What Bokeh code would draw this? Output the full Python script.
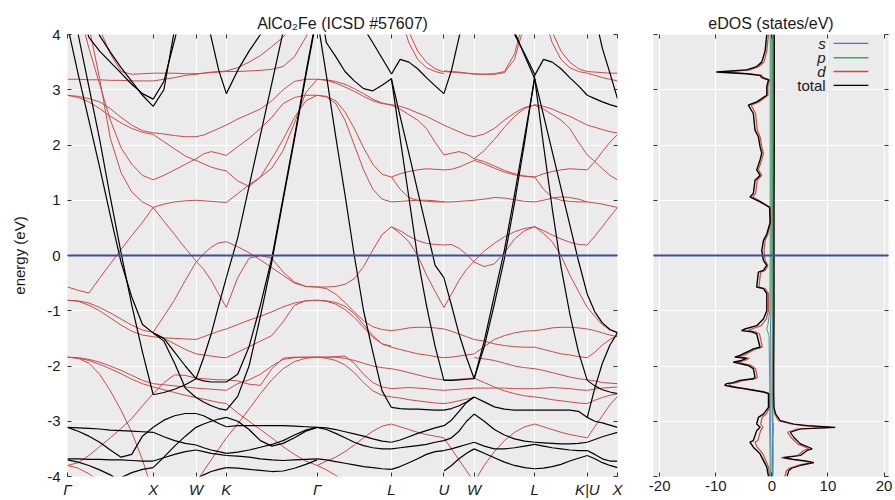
import numpy as np
from bokeh.plotting import figure
from bokeh.layouts import row
from bokeh.models import FixedTicker, Span, Range1d, LinearAxis
from bokeh.core.properties import value
from bokeh.embed import file_html
from bokeh.resources import INLINE

# ---------------- band structure data ----------------
sym_labels = ["Γ", "X", "W", "K", "Γ", "L", "U", "W", "L", "K|U", "X"]
sym_k = [0.0, 1.0, 1.5, 1.854, 2.914, 3.780, 4.393, 4.746, 5.453, 6.066, 6.419]

# each band: energies (eV) at evenly spaced points along one path segment
black_G_X = [
    [4.16, 3.28, 2.44, 1.6, 0.72, -0.12, -0.75, -1.25, -1.4],
    [4.9, 4.0, 3.05, 2.1, 1.05, 0.05, -0.9, -1.75, -2.52],
    [5.5, 4.6, 3.95, 3.7, 3.5, 3.3, 3.1, 2.93, 2.83],
    [6.0, 5.2, 4.5, 3.98, 3.68, 3.4, 3.15, 2.9, 2.7],
    [-3.11, -3.18, -3.27, -3.38, -3.52, -3.65, -3.6, -3.27, -3.11],
    [-3.11, -3.12, -3.13, -3.14, -3.16, -3.17, -3.18, -3.19, -3.2],
    [-3.68, -3.68, -3.69, -3.69, -3.7, -3.7, -3.71, -3.72, -3.72],
    [-3.7, -3.74, -3.8, -3.88, -3.97, -4.1, -4.2, -4.3, -4.35],
    [-5.0, -4.8, -4.6, -4.4, -4.15, -4.02, -3.93, -3.87, -3.84],
]
red_G_X = [
    [3.19, 3.19, 3.18, 3.18, 3.17, 3.17, 3.16, 3.16, 3.16],
    [6.0, 5.2, 4.6, 4.1, 3.65, 3.33, 3.28, 3.29, 3.3],
    [2.9, 2.88, 2.84, 2.78, 2.66, 2.5, 2.36, 2.26, 2.22],
    [2.9, 2.86, 2.78, 2.66, 2.52, 2.4, 2.3, 2.23, 2.19],
    [5.3, 4.5, 3.75, 3.1, 2.45, 1.95, 1.65, 1.45, 1.37],
    [6.0, 5.0, 4.15, 3.2, 2.12, 1.5, 1.15, 0.97, 0.87],
    [-0.57, -0.63, -0.68, -0.41, -0.15, 0.11, 0.36, 0.6, 0.87],
    [-0.81, -0.82, -0.86, -0.94, -1.04, -1.15, -1.26, -1.35, -1.39],
    [-0.81, -0.83, -0.9, -1.0, -1.13, -1.26, -1.37, -1.44, -1.47],
    [-1.84, -1.85, -1.88, -1.93, -2.0, -2.08, -2.17, -2.26, -2.32],
    [-1.84, -1.86, -1.9, -1.97, -2.05, -2.14, -2.24, -2.32, -2.38],
    [-1.84, -1.86, -1.95, -2.15, -2.45, -2.8, -3.2, -3.7, -4.3],
    [-3.8, -3.75, -3.62, -3.46, -3.3, -3.13, -2.95, -2.72, -2.5],
    [-3.8, -3.85, -3.95, -4.1, -4.3, -4.5, -4.7, -4.9, -5.0],
]
black_X_W = [
    [2.83, 3.15, 3.9, 4.7, 5.5],
    [2.7, 3.0, 4.1, 5.0, 5.8],
    [-1.4, -1.5, -1.75, -2.0, -2.23],
    [-1.4, -1.55, -1.95, -2.4, -2.57],
    [-2.52, -2.48, -2.42, -2.34, -2.23],
    [-3.11, -2.98, -2.9, -2.86, -2.86],
    [-3.2, -3.28, -3.35, -3.4, -3.43],
    [-3.72, -3.66, -3.6, -3.55, -3.52],
    [-3.84, -3.65, -3.45, -3.27, -3.11],
    [-4.35, -4.25, -4.15, -4.1, -4.05],
]
red_X_W = [
    [3.16, 3.19, 3.22, 3.26, 3.28],
    [3.3, 3.3, 3.3, 3.29, 3.29],
    [2.22, 2.2, 2.17, 2.15, 2.15],
    [2.19, 2.06, 1.93, 1.8, 1.72],
    [1.37, 1.45, 1.55, 1.65, 1.75],
    [0.87, 0.93, 0.97, 0.99, 1.0],
    [0.87, 0.62, 0.38, 0.13, -0.1],
    [-1.39, -1.1, -0.8, -0.45, -0.12],
    [-1.47, -1.49, -1.5, -1.51, -1.52],
    [-1.42, -1.5, -1.6, -1.7, -1.78],
    [-2.32, -2.34, -2.36, -2.38, -2.4],
    [-2.38, -2.43, -2.48, -2.53, -2.57],
    [-2.5, -2.3, -2.16, -2.17, -2.22],
    [-5.5, -5.0, -4.6, -4.3, -4.1],
]
black_W_K = [
    [5.2, 4.5, 3.95, 3.35, 2.93],
    [-2.23, -1.85, -1.42, -0.9, -0.4],
    [-2.23, -2.27, -2.29, -2.29, -2.29],
    [-2.57, -2.65, -2.72, -2.77, -2.8],
    [-2.86, -2.9, -2.97, -3.04, -3.1],
    [-3.43, -3.48, -3.52, -3.55, -3.58],
    [-3.52, -3.55, -3.58, -3.6, -3.62],
    [-3.11, -3.05, -3.0, -2.96, -2.93],
    [-4.05, -3.97, -3.91, -3.87, -3.84],
]
red_W_K = [
    [3.28, 3.3, 3.31, 3.32, 3.33],
    [3.29, 3.3, 3.32, 3.33, 3.34],
    [2.15, 2.18, 2.24, 2.3, 2.36],
    [1.72, 1.66, 1.6, 1.56, 1.53],
    [1.75, 1.84, 1.88, 1.85, 1.81],
    [1.0, 0.99, 0.98, 0.97, 0.96],
    [-0.1, -0.25, -0.45, -0.7, -0.94],
    [-0.12, 0.03, 0.15, 0.23, 0.25],
    [-1.52, -1.47, -1.42, -1.37, -1.33],
    [-1.78, -1.8, -1.82, -1.84, -1.85],
    [-2.4, -2.41, -2.42, -2.43, -2.44],
    [-2.57, -2.6, -2.63, -2.66, -2.68],
    [-2.22, -2.23, -2.24, -2.25, -2.25],
    [-4.1, -3.9, -3.7, -3.5, -3.3],
]
black_K_G = [
    [2.93, 3.35, 3.7, 4.0, 4.3, 4.6, 4.9, 5.2, 5.5],
    [-0.4, 0.32, 1.25, 2.18, 3.11, 4.05, 5.0, 6.0, 7.0],
    [-2.29, -2.15, -1.65, -0.9, -0.05, 1.05, 2.15, 3.3, 4.4],
    [-2.8, -2.55, -2.0, -1.1, -0.12, 1.0, 2.1, 3.25, 4.35],
    [-3.1, -3.08, -3.08, -3.08, -3.08, -3.08, -3.09, -3.1, -3.11],
    [-2.93, -3.0, -3.15, -3.35, -3.45, -3.4, -3.3, -3.18, -3.11],
    [-3.58, -3.56, -3.52, -3.47, -3.42, -3.35, -3.25, -3.16, -3.11],
    [-3.62, -3.63, -3.65, -3.68, -3.7, -3.71, -3.7, -3.69, -3.68],
    [-3.84, -3.85, -3.87, -3.89, -3.91, -3.9, -3.85, -3.78, -3.7],
]
red_K_G = [
    [3.33, 3.33, 3.34, 3.35, 3.37, 3.42, 3.6, 3.95, 4.4],
    [3.34, 3.4, 3.5, 3.62, 3.78, 3.95, 4.2, 4.5, 4.8],
    [2.36, 2.47, 2.56, 2.65, 2.8, 3.0, 3.15, 3.19, 3.19],
    [1.81, 1.97, 2.12, 2.3, 2.5, 2.75, 2.86, 2.9, 2.9],
    [1.53, 1.35, 1.25, 1.42, 1.75, 2.1, 2.5, 2.8, 2.9],
    [0.96, 1.12, 1.28, 1.42, 1.58, 1.9, 2.4, 2.95, 3.19],
    [-0.94, -0.4, -0.05, 0.0, -0.05, -0.3, -0.48, -0.56, -0.57],
    [0.25, 0.16, 0.05, -0.08, -0.22, -0.36, -0.5, -0.56, -0.57],
    [-1.33, -1.25, -1.17, -1.1, -1.02, -0.93, -0.86, -0.82, -0.81],
    [-1.85, -1.75, -1.65, -1.55, -1.45, -1.2, -0.9, -0.82, -0.81],
    [-2.25, -2.27, -2.33, -2.35, -2.05, -1.86, -1.84, -1.84, -1.84],
    [-2.44, -2.32, -2.25, -2.15, -2.0, -1.88, -1.85, -1.84, -1.84],
    [-2.68, -2.85, -3.0, -3.15, -3.3, -3.46, -3.6, -3.72, -3.8],
    [-3.3, -3.05, -2.78, -2.5, -2.25, -2.05, -1.92, -1.86, -1.84],
]
black_G_L = [
    [4.3, 3.25, 2.15, 1.1, 0.0, -1.0, -1.75, -2.45, -2.75],
    [4.8, 3.85, 3.6, 3.33, 3.16, 3.02, 2.98, 3.08, 3.2],
    [6.0, 5.6, 5.2, 4.85, 4.5, 4.12, 3.85, 3.57, 3.29],
    [-3.11, -3.12, -3.15, -3.19, -3.23, -3.27, -3.32, -3.36, -3.38],
    [-3.11, -3.15, -3.22, -3.3, -3.38, -3.44, -3.48, -3.5, -3.5],
    [-3.68, -3.7, -3.73, -3.76, -3.79, -3.82, -3.84, -3.86, -3.87],
]
red_G_L = [
    [3.19, 3.17, 3.12, 3.05, 2.97, 2.88, 2.8, 2.75, 2.73],
    [3.19, 3.18, 3.15, 3.1, 3.02, 2.93, 2.83, 2.76, 2.72],
    [2.9, 2.88, 2.8, 2.6, 2.3, 1.95, 1.65, 1.47, 1.42],
    [2.9, 2.87, 2.75, 2.45, 2.0, 1.55, 1.2, 1.02, 0.97],
    [-0.57, -0.57, -0.56, -0.52, -0.42, -0.2, 0.1, 0.38, 0.52],
    [-0.57, -0.6, -0.7, -0.85, -1.02, -1.18, -1.29, -1.34, -1.36],
    [-0.81, -0.82, -0.85, -0.92, -1.05, -1.25, -1.45, -1.6, -1.66],
    [-0.81, -0.83, -0.88, -0.98, -1.12, -1.3, -1.48, -1.6, -1.64],
    [-1.84, -1.84, -1.84, -1.86, -1.9, -1.95, -2.0, -2.03, -2.05],
    [-1.84, -1.84, -1.83, -1.82, -1.95, -2.15, -2.3, -2.38, -2.41],
    [-1.84, -1.86, -1.9, -1.98, -2.12, -2.3, -2.45, -2.53, -2.56],
    [-3.8, -3.72, -3.65, -3.55, -3.43, -3.3, -3.18, -3.09, -3.05],
    [-3.8, -3.88, -3.98, -4.1, -4.2, -4.3, -4.4, -4.45, -4.5],
]
black_L_U = [
    [3.28, 3.55, 3.5, 3.38, 3.22, 3.07, 2.93],
    [3.2, 2.12, 1.05, -0.04, -0.9, -1.65, -2.26],
    [3.2, 2.52, 1.85, 1.17, 0.5, -0.18, -0.4],
    [-2.75, -2.77, -2.78, -2.78, -2.79, -2.8, -2.8],
    [-3.38, -3.34, -3.28, -3.22, -3.17, -3.12, -3.08],
    [-3.5, -3.48, -3.46, -3.44, -3.42, -3.38, -3.35],
    [-3.87, -3.82, -3.75, -3.68, -3.6, -3.55, -3.53],
]
red_L_U = [
    [2.73, 2.7, 2.65, 2.58, 2.52, 2.44, 2.36],
    [5.0, 4.35, 3.85, 3.55, 3.4, 3.33, 3.29],
    [5.3, 4.6, 4.05, 3.7, 3.5, 3.38, 3.32],
    [2.72, 2.65, 2.55, 2.45, 2.3, 2.05, 1.82],
    [1.42, 1.48, 1.52, 1.55, 1.57, 1.56, 1.55],
    [1.42, 1.2, 1.05, 1.0, 0.98, 0.97, 0.97],
    [0.97, 0.98, 0.99, 1.0, 1.0, 0.99, 0.97],
    [0.52, 0.45, 0.35, 0.27, 0.22, 0.2, 0.19],
    [0.52, 0.4, 0.25, 0.0, -0.35, -0.65, -0.94],
    [-1.36, -1.34, -1.31, -1.3, -1.3, -1.31, -1.33],
    [-1.66, -1.7, -1.74, -1.78, -1.8, -1.83, -1.85],
    [-2.05, -2.08, -2.12, -2.16, -2.2, -2.23, -2.25],
    [-2.41, -2.4, -2.39, -2.4, -2.41, -2.43, -2.44],
    [-2.56, -2.58, -2.61, -2.63, -2.65, -2.67, -2.68],
    [-3.05, -3.1, -3.15, -3.2, -3.24, -3.27, -3.3],
]
black_U_W = [
    [2.93, 3.35, 3.95, 4.5, 5.2],
    [-0.4, -0.9, -1.42, -1.85, -2.23],
    [-2.26, -2.26, -2.25, -2.24, -2.23],
    [-2.8, -2.77, -2.72, -2.65, -2.56],
    [-3.08, -2.98, -2.82, -2.66, -2.56],
    [-3.35, -3.3, -3.18, -3.0, -2.87],
    [-3.53, -3.5, -3.46, -3.42, -3.38],
    [-3.9, -3.8, -3.68, -3.58, -3.5],
]
red_U_W = [
    [3.33, 3.32, 3.31, 3.3, 3.28],
    [3.34, 3.33, 3.32, 3.3, 3.29],
    [2.36, 2.3, 2.24, 2.18, 2.15],
    [1.55, 1.56, 1.6, 1.66, 1.72],
    [1.82, 1.85, 1.88, 1.84, 1.75],
    [0.97, 0.97, 0.98, 0.99, 1.0],
    [-0.94, -0.7, -0.45, -0.25, -0.1],
    [0.19, 0.2, 0.13, 0.02, -0.12],
    [-1.33, -1.37, -1.42, -1.47, -1.52],
    [-1.85, -1.84, -1.82, -1.8, -1.78],
    [-2.44, -2.43, -2.42, -2.41, -2.4],
    [-2.68, -2.66, -2.63, -2.6, -2.57],
    [-2.25, -2.25, -2.24, -2.23, -2.22],
    [-3.3, -3.5, -3.7, -3.9, -4.1],
]
black_W_L = [
    [-2.23, -1.55, -0.72, 0.1, 1.1, 2.15, 3.2],
    [-2.23, -1.65, -0.88, -0.05, 0.95, 2.05, 3.26],
    [6.3, 5.6, 5.0, 4.45, 4.0, 3.65, 3.28],
    [6.0, 5.4, 4.85, 4.4, 4.05, 3.62, 3.2],
    [-2.56, -2.65, -2.74, -2.78, -2.8, -2.8, -2.8],
    [-2.87, -3.0, -3.15, -3.25, -3.32, -3.36, -3.38],
    [-3.38, -3.45, -3.5, -3.5, -3.48, -3.45, -3.42],
    [-3.5, -3.58, -3.66, -3.74, -3.8, -3.84, -3.86],
]
red_W_L = [
    [3.28, 3.28, 3.28, 3.31, 3.55, 4.2, 5.0],
    [3.29, 3.28, 3.29, 3.33, 3.65, 4.35, 5.2],
    [2.15, 2.2, 2.3, 2.45, 2.58, 2.68, 2.72],
    [1.75, 1.9, 2.1, 2.32, 2.52, 2.66, 2.73],
    [1.75, 1.7, 1.62, 1.54, 1.48, 1.44, 1.42],
    [1.72, 1.66, 1.58, 1.51, 1.46, 1.43, 1.42],
    [1.0, 1.02, 1.05, 1.04, 1.01, 0.98, 0.97],
    [-0.12, -0.2, -0.15, 0.05, 0.3, 0.45, 0.52],
    [-0.1, 0.08, 0.22, 0.34, 0.43, 0.49, 0.52],
    [-1.78, -1.65, -1.52, -1.45, -1.4, -1.37, -1.36],
    [-1.52, -1.55, -1.6, -1.63, -1.65, -1.66, -1.66],
    [-1.85, -1.87, -1.9, -1.95, -2.0, -2.03, -2.05],
    [-2.4, -2.4, -2.4, -2.4, -2.41, -2.41, -2.41],
    [-2.22, -2.3, -2.38, -2.45, -2.5, -2.54, -2.56],
    [-4.1, -3.8, -3.55, -3.35, -3.2, -3.1, -3.05],
]
black_L_K = [
    [3.26, 3.55, 3.5, 3.38, 3.22, 3.07, 2.9],
    [3.2, 2.0, 0.85, -0.2, -1.05, -1.75, -2.26],
    [3.2, 2.54, 1.88, 1.22, 0.56, -0.1, -0.7],
    [-2.8, -2.8, -2.8, -2.8, -2.8, -2.82, -2.93],
    [-3.38, -3.39, -3.4, -3.41, -3.41, -3.4, -3.38],
    [-3.42, -3.45, -3.48, -3.5, -3.52, -3.53, -3.53],
    [-3.86, -3.85, -3.82, -3.78, -3.72, -3.67, -3.62],
]
red_L_K = [
    [2.73, 2.7, 2.65, 2.58, 2.52, 2.44, 2.36],
    [5.0, 4.35, 3.85, 3.55, 3.4, 3.33, 3.3],
    [5.3, 4.6, 4.05, 3.7, 3.5, 3.38, 3.33],
    [2.72, 2.65, 2.55, 2.45, 2.3, 2.05, 1.82],
    [1.42, 1.48, 1.52, 1.55, 1.57, 1.56, 1.55],
    [1.42, 1.2, 1.05, 1.0, 0.98, 0.97, 0.97],
    [0.97, 1.0, 1.04, 1.06, 1.05, 1.02, 0.97],
    [0.52, 0.45, 0.37, 0.3, 0.24, 0.2, 0.19],
    [0.52, 0.4, 0.25, 0.0, -0.35, -0.65, -0.94],
    [-1.36, -1.34, -1.31, -1.3, -1.3, -1.31, -1.33],
    [-1.66, -1.7, -1.74, -1.78, -1.8, -1.83, -1.85],
    [-2.05, -2.08, -2.12, -2.16, -2.2, -2.23, -2.25],
    [-2.41, -2.4, -2.39, -2.4, -2.41, -2.43, -2.44],
    [-2.56, -2.58, -2.61, -2.63, -2.65, -2.67, -2.68],
    [-3.05, -3.1, -3.15, -3.2, -3.24, -3.27, -3.3],
]
black_U_X = [
    [2.9, 2.84, 2.78, 2.73, 2.69],
    [5.0, 4.35, 3.75, 3.3, 2.84],
    [-0.7, -1.02, -1.22, -1.34, -1.4],
    [-2.26, -2.36, -2.43, -2.47, -2.5],
    [-2.93, -2.4, -1.95, -1.62, -1.4],
    [-2.93, -3.0, -3.03, -3.07, -3.11],
    [-3.38, -3.33, -3.28, -3.24, -3.2],
    [-3.53, -3.6, -3.68, -3.72, -3.72],
    [-3.62, -3.68, -3.75, -3.8, -3.84],
]
red_U_X = [
    [3.33, 3.32, 3.31, 3.3, 3.3],
    [3.3, 3.26, 3.22, 3.19, 3.16],
    [2.36, 2.32, 2.28, 2.24, 2.22],
    [1.55, 1.7, 1.88, 2.05, 2.19],
    [1.82, 1.7, 1.57, 1.45, 1.37],
    [0.97, 0.95, 0.93, 0.9, 0.87],
    [0.19, 0.35, 0.52, 0.7, 0.87],
    [-0.94, -1.1, -1.25, -1.35, -1.39],
    [-1.33, -1.36, -1.4, -1.44, -1.47],
    [-1.85, -1.75, -1.62, -1.52, -1.45],
    [-2.25, -2.27, -2.3, -2.31, -2.32],
    [-2.44, -2.42, -2.4, -2.39, -2.38],
    [-2.68, -2.62, -2.57, -2.53, -2.5],
    [-3.3, -3.1, -2.9, -2.7, -2.55],
]

segments = [
    (black_G_X, red_G_X), (black_X_W, red_X_W), (black_W_K, red_W_K),
    (black_K_G, red_K_G), (black_G_L, red_G_L), (black_L_U, red_L_U),
    (black_U_W, red_U_W), (black_W_L, red_W_L), (black_L_K, red_L_K),
    (black_U_X, red_U_X),
]

# ---------------- DOS data (states/eV) ----------------
dos_dn_E = [4.0, 3.7, 3.5, 3.42, 3.36, 3.32, 3.29, 3.26, 3.22, 3.18, 3.06, 2.9, 2.78, 2.72,
            2.57, 2.27, 2.15, 1.97, 1.85, 1.73, 1.55, 1.45, 1.36, 1.12, 1.06, 0.97, 0.87,
            0.6, 0.39, 0.27, 0.09, -0.09, -0.18, -0.27, -0.3, -0.57, -0.6, -0.69, -1.0,
            -1.15, -1.27, -1.33, -1.36, -1.38, -1.42, -1.66, -1.69, -1.72, -1.81, -1.84,
            -1.86, -1.9, -1.93, -1.99, -2.05, -2.2, -2.23, -2.26, -2.3, -2.32, -2.35, -2.38,
            -2.41, -2.44, -2.47, -2.5, -2.75, -2.87, -2.93, -3.05, -3.11, -3.17, -3.35,
            -3.38, -3.47, -3.59, -3.83, -4.0]
total_dn = [-0.9, -1.2, -1.8, -2.7, -4.5, -9.9, -4.5, -2.1, -1.8, -0.6, -0.9, -0.9, -2.7, -4.2,
            -3.3, -3.0, -2.4, -2.1, -1.8, -2.1, -2.7, -2.1, -3.0, -3.3, -3.9, -2.1, -0.4,
            -0.3, -0.9, -1.5, -1.8, -1.5, -0.9, -1.5, -2.4, -2.7, -1.5, -0.9, -0.9,
            -1.5, -2.7, -4.8, -5.4, -3.6, -2.7, -2.1, -3.3, -3.9, -5.7, -6.6,
            -4.5, -5.4, -6.9, -4.2, -3.3, -3.0, -3.3, -5.7, -6.9, -8.1, -8.4, -6.9,
            -5.1, -3.3, -1.5, -0.6, -0.6, -1.5, -2.4, -2.7, -2.1, -2.7, -3.3,
            -3.9, -3.3, -2.1, -0.9, -0.6]
d_dn = [-0.6, -0.9, -1.4, -2.3, -3.9, -8.9, -4.0, -1.8, -1.5, -0.4, -0.7, -0.7, -2.3, -3.7,
        -2.9, -2.6, -2.1, -1.8, -1.5, -1.8, -2.4, -1.8, -2.6, -2.9, -3.4, -1.8, -0.3,
        -0.2, -0.7, -1.2, -1.4, -1.2, -0.7, -1.2, -2.0, -2.3, -1.2, -0.6, -0.6,
        -1.0, -1.9, -3.6, -4.2, -2.9, -2.2, -1.7, -2.8, -3.4, -5.0, -5.9,
        -4.0, -4.8, -6.2, -3.7, -2.9, -2.6, -2.9, -5.1, -6.3, -7.4, -7.7, -6.3,
        -4.6, -2.9, -1.2, -0.4, -0.4, -1.0, -1.7, -2.0, -1.6, -2.0, -2.5,
        -3.0, -2.6, -1.6, -0.6, -0.4]
dos_up_E = [4.0, 3.0, 2.0, 1.0, 0.0, -1.0, -2.0, -2.5, -2.75, -2.87, -2.99, -3.05, -3.08,
            -3.11, -3.14, -3.2, -3.29, -3.41, -3.47, -3.5, -3.53, -3.62, -3.66, -3.69,
            -3.72, -3.75, -3.8, -3.85, -3.9, -4.0]
total_up = [0.45, 0.45, 0.45, 0.4, 0.4, 0.4, 0.35, 0.35, 0.4, 0.7, 1.5, 3.9, 6.3, 11.3, 5.1,
            3.3, 3.9, 5.1, 6.6, 7.2, 6.3, 5.1, 2.1, 3.9, 6.3, 7.5, 5.1, 3.5, 3.0, 2.7]
d_up = [0.3, 0.3, 0.3, 0.3, 0.3, 0.3, 0.25, 0.25, 0.3, 0.5, 1.2, 3.4, 5.6, 10.4, 4.5,
        2.8, 3.4, 4.6, 6.0, 6.6, 5.7, 4.6, 1.7, 3.4, 5.7, 6.9, 4.6, 3.1, 2.6, 2.3]
sp_dn_E = [4.0, 2.0, 0.0, -1.0, -1.25, -1.33, -1.45, -2.5, -3.1, -3.7, -4.0]
s_dn = [-0.12, -0.12, -0.12, -0.15, -0.22, -0.25, -0.2, -0.15, -0.2, -0.15, -0.15]
p_dn = [-0.3, -0.3, -0.3, -0.35, -0.7, -0.9, -0.5, -0.35, -0.4, -0.3, -0.3]
sp_up_E = [4.0, 0.0, -2.5, -3.0, -3.1, -3.3, -3.7, -4.0]
s_up = [0.08, 0.08, 0.08, 0.1, 0.15, 0.12, 0.12, 0.1]
p_up = [0.15, 0.15, 0.15, 0.2, 0.3, 0.22, 0.25, 0.2]

legend_labels = ["s", "p", "d", "total"]

# ---------------- styling ----------------
FONT = "Liberation Sans"
BG = "#EBEBEB"
RED = "#cf4848"
BLACK = "#000000"
BLUE_F = "#3a4fa3"
S_COL = "#4a6fc9"
P_COL = "#3fa85c"
TXT = "#1a1a1a"
y_ticks = [-4, -3, -2, -1, 0, 1, 2, 3, 4]


def style(p):
    p.background_fill_color = BG
    p.border_fill_color = "white"
    p.outline_line_color = None
    p.grid.grid_line_color = "white"
    p.grid.grid_line_width = 1.2
    p.title.text_font = FONT
    p.title.text_font_size = "16px"
    p.title.text_font_style = "normal"
    p.title.align = "center"
    p.title.text_color = TXT
    p.title.standoff = 6
    for ax in p.axis:
        ax.axis_line_color = None
        ax.major_tick_line_color = "#333333"
        ax.major_tick_in = 4
        ax.major_tick_out = 0
        ax.minor_tick_line_color = None
        ax.major_label_text_font = FONT
        ax.major_label_text_font_size = "15px"
        ax.major_label_text_color = TXT


def mirror_axis(p, xticks, side):
    ax = LinearAxis(ticker=FixedTicker(ticks=xticks))
    ax.axis_line_color = None
    ax.major_tick_line_color = "#333333"
    ax.major_tick_in = 4
    ax.major_tick_out = 0
    ax.minor_tick_line_color = None
    ax.major_label_text_font_size = "0px"
    ax.major_label_standoff = 0
    ax.major_label_overrides = {t: "" for t in xticks}
    p.add_layout(ax, side)


# band structure panel
p1 = figure(width=630, height=500, x_range=Range1d(sym_k[0], sym_k[-1]),
            y_range=Range1d(-4, 4), output_backend="svg", toolbar_location=None,
            min_border_left=67, min_border_right=13, min_border_top=34,
            min_border_bottom=24, title="AlCo₂Fe (ICSD #57607)")
style(p1)
p1.xaxis.ticker = FixedTicker(ticks=sym_k)
p1.xgrid.ticker = FixedTicker(ticks=sym_k)
p1.xaxis.major_label_overrides = {k: lab for k, lab in zip(sym_k, sym_labels)}
p1.xaxis.major_label_text_font_style = "italic"
p1.xaxis.major_label_standoff = 4
p1.yaxis.ticker = FixedTicker(ticks=y_ticks)
p1.ygrid.ticker = FixedTicker(ticks=y_ticks)
p1.yaxis.major_label_overrides = {t: str(t) for t in y_ticks}
p1.yaxis.major_label_standoff = 7
p1.yaxis.axis_label = "energy (eV)"
p1.yaxis.axis_label_text_font = FONT
p1.yaxis.axis_label_text_font_size = "15px"
p1.yaxis.axis_label_text_font_style = "normal"
p1.yaxis.axis_label_text_color = TXT
p1.yaxis.axis_label_standoff = 16
mirror_axis(p1, sym_k, "above")
mirror_axis(p1, y_ticks, "right")

rx, ry, bx, by = [], [], [], []
for i, (blk, red) in enumerate(segments):
    k0, k1 = sym_k[i], sym_k[i + 1]
    for band in red:
        rx.append(list(np.linspace(k0, k1, len(band))))
        ry.append(band)
    for band in blk:
        bx.append(list(np.linspace(k0, k1, len(band))))
        by.append(band)
p1.multi_line(rx, ry, line_color=RED, line_width=1.0)
p1.multi_line(bx, by, line_color=BLACK, line_width=1.2)
p1.add_layout(Span(location=0, dimension="width", line_color=BLUE_F, line_width=2))

# DOS panel
dos_ticks = [-20, -10, 0, 10, 20]
p2 = figure(width=265, height=500, x_range=Range1d(-21.1, 20.8), y_range=Range1d(-4, 4),
            output_backend="svg", toolbar_location=None, min_border_left=23,
            min_border_right=7, min_border_top=34, min_border_bottom=24,
            title="eDOS (states/eV)")
style(p2)
p2.xaxis.ticker = FixedTicker(ticks=dos_ticks)
p2.xgrid.ticker = FixedTicker(ticks=dos_ticks)
p2.xaxis.major_label_overrides = {t: str(t) for t in dos_ticks}
p2.xaxis.major_label_standoff = 4
p2.yaxis.ticker = FixedTicker(ticks=y_ticks)
p2.ygrid.ticker = FixedTicker(ticks=y_ticks)
p2.yaxis.major_label_overrides = {t: "" for t in y_ticks}
mirror_axis(p2, dos_ticks, "above")
mirror_axis(p2, y_ticks, "right")

p2.line(s_dn, sp_dn_E, line_color=S_COL, line_width=1.0)
p2.line(s_up, sp_up_E, line_color=S_COL, line_width=1.0)
p2.line(p_dn, sp_dn_E, line_color=P_COL, line_width=1.0)
p2.line(p_up, sp_up_E, line_color=P_COL, line_width=1.0)
p2.line(d_dn, dos_dn_E, line_color=RED, line_width=1.2)
p2.line(d_up, dos_up_E, line_color=RED, line_width=1.2)
p2.line(total_dn, dos_dn_E, line_color=BLACK, line_width=1.4)
p2.line(total_up, dos_up_E, line_color=BLACK, line_width=1.2)
p2.add_layout(Span(location=0, dimension="width", line_color=BLUE_F, line_width=2))

# legend (text right-aligned, sample line to its right)
leg_y = [3.84, 3.58, 3.33, 3.08]
leg_cols = [S_COL, P_COL, RED, BLACK]
p2.quad(left=[2.0], right=[9.9], bottom=[2.95], top=[3.98], fill_color=BG, line_color=None)
p2.text(x=[9.6] * 3, y=leg_y[:3], text=legend_labels[:3], text_align="right",
        text_baseline="middle", text_font=value(FONT), text_font_size="15px",
        text_font_style="italic", text_color=TXT)
p2.text(x=[9.6], y=leg_y[3:], text=legend_labels[3:], text_align="right",
        text_baseline="middle", text_font=value(FONT), text_font_size="15px",
        text_color=TXT)
p2.segment(x0=[11.0] * 4, y0=leg_y, x1=[17.2] * 4, y1=leg_y, line_color=leg_cols,
           line_width=1.4)

layout = row(p1, p2)
open("out.html", "w").write(file_html(layout, INLINE))
